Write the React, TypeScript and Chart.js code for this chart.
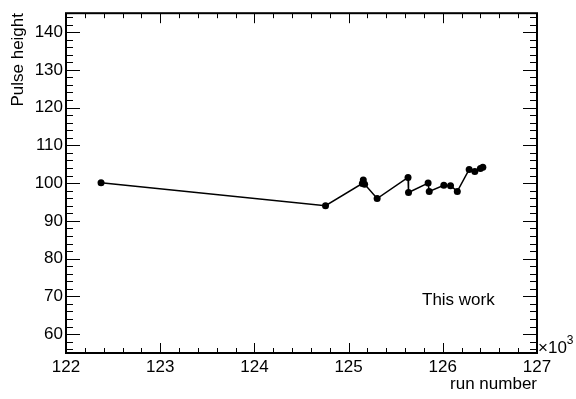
import React, { useEffect, useRef } from "react";
import { Chart, registerables } from "chart.js";

Chart.register(...registerables);

const runNumbers = [
  122372, 124755, 125146, 125156, 125170, 125303, 125631, 125636, 125844,
  125856, 126011, 126082, 126154, 126280, 126340, 126399, 126425,
];
const pulseHeights = [
  100.1, 94.0, 99.9, 100.8, 99.7, 95.9, 101.5, 97.5, 100.0, 97.8, 99.4, 99.3,
  97.8, 103.6, 103.1, 103.9, 104.2,
];
const xTickValues = [122000, 123000, 124000, 125000, 126000, 127000];
const yTickValues = [60, 70, 80, 90, 100, 110, 120, 130, 140];
const xRange = [122000, 127000];
const yRange = [55, 145];
const xMinorStep = 200;
const yMinorStep = 2;
const xTitle = "run number";
const yTitle = "Pulse height";
const annotation = "This work";

const FONT = '"Liberation Sans", Arial, Helvetica, sans-serif';
const FS = 17;

const rootStylePlugin = {
  id: "rootStyle",
  afterDraw(chart: any) {
    const { ctx, chartArea } = chart;
    const { left, right, top, bottom } = chartArea;
    const xs = chart.scales.x;
    const ys = chart.scales.y;
    ctx.save();
    ctx.strokeStyle = "#000";
    ctx.fillStyle = "#000";
    ctx.lineWidth = 1;
    ctx.beginPath();
    for (let v = xRange[0]; v <= xRange[1] + 0.001; v += xMinorStep) {
      const px = Math.round(xs.getPixelForValue(v)) + 0.5;
      const major = Math.abs(v % 1000) < 0.001;
      const len = major ? 10 : 5;
      ctx.moveTo(px, bottom);
      ctx.lineTo(px, bottom - len);
      ctx.moveTo(px, top);
      ctx.lineTo(px, top + len);
    }
    for (let v = 56; v <= 144 + 0.001; v += yMinorStep) {
      const py = Math.round(ys.getPixelForValue(v)) + 0.5;
      const major = Math.abs(v % 10) < 0.001;
      const len = major ? 14 : 7;
      ctx.moveTo(left, py);
      ctx.lineTo(left + len, py);
      ctx.moveTo(right, py);
      ctx.lineTo(right - len, py);
    }
    ctx.stroke();
    ctx.lineWidth = 2;
    ctx.strokeRect(left, top, right - left, bottom - top);
    ctx.font = `${FS}px ${FONT}`;
    ctx.textAlign = "left";
    ctx.textBaseline = "alphabetic";
    ctx.fillText("\u00d710", right + 1, bottom);
    const w = ctx.measureText("\u00d710").width;
    ctx.font = `12px ${FONT}`;
    ctx.fillText("3", right + 1 + w, bottom - 9);
    ctx.font = `${FS}px ${FONT}`;
    ctx.textAlign = "right";
    ctx.fillText(xTitle, right, 389);
    ctx.save();
    ctx.translate(18, 13);
    ctx.rotate(-Math.PI / 2);
    ctx.textAlign = "right";
    ctx.textBaseline = "middle";
    ctx.fillText(yTitle, 0, 0);
    ctx.restore();
    ctx.textAlign = "left";
    ctx.textBaseline = "middle";
    ctx.fillText(annotation, 422, 300);
    ctx.restore();
  },
};

export default function App() {
  const ref = useRef<HTMLCanvasElement>(null);
  useEffect(() => {
    document.body.style.margin = "0";
    const canvas = ref.current;
    if (!canvas) return;
    const chart = new Chart(canvas, {
      type: "scatter",
      data: {
        datasets: [
          {
            data: runNumbers.map((r, i) => ({ x: r, y: pulseHeights[i] })),
            showLine: true,
            borderColor: "#000",
            backgroundColor: "#000",
            borderWidth: 1.5,
            pointRadius: 3.5,
            pointBorderWidth: 0,
            pointBackgroundColor: "#000",
          },
        ],
      },
      options: {
        animation: false,
        responsive: false,
        maintainAspectRatio: false,
        layout: { padding: { left: 0, right: 39, top: 11, bottom: 0 } },
        plugins: {
          legend: { display: false },
          tooltip: { enabled: false },
          title: { display: false },
        },
        scales: {
          x: {
            type: "linear",
            min: xRange[0],
            max: xRange[1],
            grid: { display: false, drawTicks: false },
            border: { display: false },
            afterBuildTicks: (s: any) => {
              s.ticks = xTickValues.map((v) => ({ value: v }));
            },
            afterFit: (s: any) => {
              s.height = 46;
            },
            ticks: {
              color: "#000",
              padding: 4,
              maxRotation: 0,
              autoSkip: false,
              font: { family: FONT, size: FS },
              callback: (v: any) => String(Math.round(Number(v) / 1000)),
            },
          },
          y: {
            type: "linear",
            min: yRange[0],
            max: yRange[1],
            grid: { display: false, drawTicks: false },
            border: { display: false },
            afterBuildTicks: (s: any) => {
              s.ticks = yTickValues.map((v) => ({ value: v }));
            },
            afterFit: (s: any) => {
              s.width = 66;
            },
            ticks: {
              color: "#000",
              padding: 3,
              autoSkip: false,
              font: { family: FONT, size: FS },
              callback: (v: any) => String(v),
            },
          },
        },
      },
      plugins: [rootStylePlugin],
    });
    return () => chart.destroy();
  }, []);
  return (
    <div style={{ width: 576, height: 399, background: "#fff" }}>
      <canvas ref={ref} width={576} height={399} />
    </div>
  );
}
